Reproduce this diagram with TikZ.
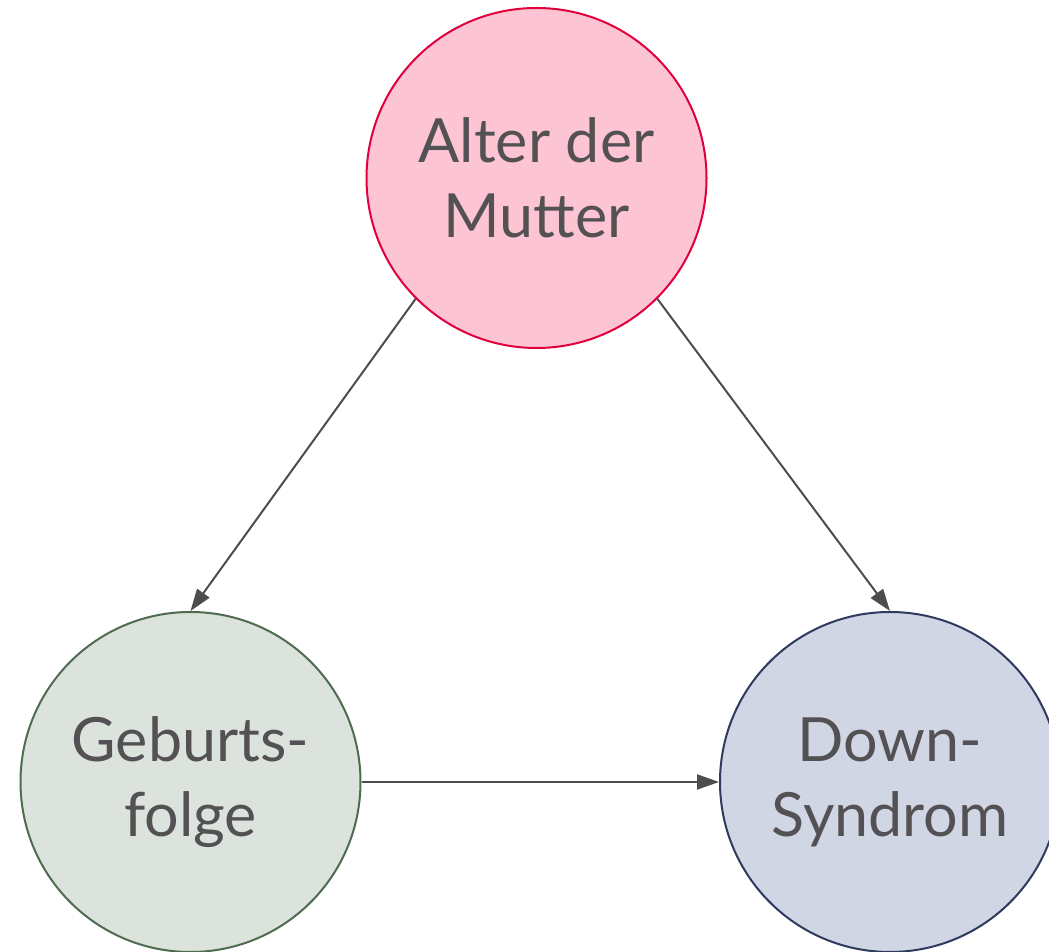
\documentclass[tikz,border=0pt]{standalone}
\usepackage{fontspec}
\setmainfont{Lato}
\usetikzlibrary{arrows.meta}
\definecolor{textgray}{HTML}{545154}
\definecolor{edgegray}{HTML}{4D4D4D}
\definecolor{pinkfill}{HTML}{FDC5D3}
\definecolor{pinkline}{HTML}{E0003C}
\definecolor{greenfill}{HTML}{DCE3DC}
\definecolor{greenline}{HTML}{4F6B50}
\definecolor{bluefill}{HTML}{D0D6E4}
\definecolor{blueline}{HTML}{2E3A5E}
\begin{document}
\begin{tikzpicture}[x=0.5pt,y=0.5pt,
    var/.style={circle,minimum size=170pt,inner sep=0pt,line width=1pt,
      text=textgray,align=center,font=\fontsize{30.5}{37.5}\selectfont},
    every edge/.style={draw,edgegray,line width=1pt,
      -{Triangle[length=11pt,width=7.5pt]}}]
    \useasboundingbox (0,0) rectangle (1049,952);
    \node[var,draw=pinkline,fill=pinkfill] (mother) at (536.5,774) {Alter der\\Mutter};
    \node[var,draw=greenline,fill=greenfill] (order) at (190.5,170) {Geburts-\\folge};
    \node[var,draw=blueline,fill=bluefill] (down) at (890,170) {Down-\\Syndrom};
    \path (mother.south west) edge (order.north)
          (mother.south east) edge (down.north)
          (order.east)        edge (down.west);
\end{tikzpicture}
\end{document}
